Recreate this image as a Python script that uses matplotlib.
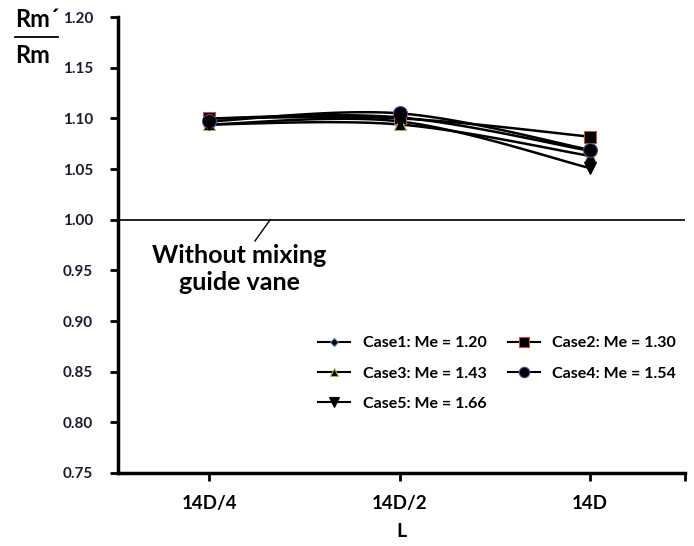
import numpy as np
import matplotlib.pyplot as plt

plt.rcParams['font.family'] = ['Lato', 'DejaVu Sans']
plt.rcParams['font.weight'] = 'bold'

positions = ["14D/4", "14D/2", "14D"]
labels = ["Case1: Me = 1.20", "Case2: Me = 1.30", "Case3: Me = 1.43",
          "Case4: Me = 1.54", "Case5: Me = 1.66"]
case1 = [1.100, 1.101, 1.068]
case2 = [1.100, 1.100, 1.082]
case3 = [1.094, 1.094, 1.063]
case4 = [1.097, 1.105, 1.069]
case5 = [1.094, 1.097, 1.051]
series = [case1, case2, case3, case4, case5]

markers = ["D", "s", "^", "o", "v"]
sizes = [6, 9, 8.5, 10, 9]
edges = ["#4f81bd", "#c0504d", "#9bbb59", "#4b4b9b", "black"]


def smooth(xs, ys, n=40, t=1/6):
    # Bezier curve through the points, like a spreadsheet "smoothed line"
    xs = np.asarray(xs, float)
    ys = np.asarray(ys, float)
    px = np.concatenate([[xs[0]], xs, [xs[-1]]])
    py = np.concatenate([[ys[0]], ys, [ys[-1]]])
    out_x, out_y = [], []
    s = np.linspace(0, 1, n)
    for i in range(1, len(px) - 2):
        p0 = np.array([px[i], py[i]])
        p3 = np.array([px[i + 1], py[i + 1]])
        p1 = p0 + t * (np.array([px[i + 1], py[i + 1]]) - np.array([px[i - 1], py[i - 1]]))
        p2 = p3 - t * (np.array([px[i + 2], py[i + 2]]) - np.array([px[i], py[i]]))
        b = ((1 - s) ** 3)[:, None] * p0 + (3 * (1 - s) ** 2 * s)[:, None] * p1 \
            + (3 * (1 - s) * s ** 2)[:, None] * p2 + (s ** 3)[:, None] * p3
        out_x.extend(b[:, 0])
        out_y.extend(b[:, 1])
    return out_x, out_y


fig = plt.figure(figsize=(6.94, 5.46), dpi=100)
ax = fig.add_axes([0.170, 0.1337, 0.817, 0.835])

x = np.arange(len(positions))
handles = []
for ys, m, ms, ec, lab in zip(series, markers, sizes, edges, labels):
    sx, sy = smooth(x, ys)
    ax.plot(sx, sy, color="black", lw=1.8, zorder=2)
    ax.plot(x, ys, linestyle="none", marker=m, ms=ms, mfc="black", mec=ec,
            mew=0.8, zorder=3)
    h, = ax.plot([], [], color="black", lw=1.5, marker=m, ms=ms * 0.75,
                 mfc="black", mec=ec, mew=0.8, label=lab)
    handles.append(h)

ax.axhline(1.0, color="black", lw=1.2, zorder=1)

ax.set_xlim(-0.48, 2.5)
ax.set_ylim(0.75, 1.20)
yt = np.arange(0.75, 1.201, 0.05)
ax.set_yticks(yt)
ax.set_yticklabels([f"{v:.2f}" for v in yt],
                   fontsize=11, fontweight="bold", color="#1a1a33")
ax.set_xticks(list(x) + [2.5])
ax.set_xticklabels(positions + [""], fontsize=13.5, fontweight="bold")
ax.tick_params(axis="y", direction="out", length=6, width=2, pad=12)
ax.tick_params(axis="x", direction="out", length=6, width=2, pad=10)

for side in ["top", "right"]:
    ax.spines[side].set_visible(False)
for side in ["left", "bottom"]:
    ax.spines[side].set_linewidth(2.5)

ax.set_xlabel("L", fontsize=14, fontweight="bold", labelpad=8)

# ratio label at top left
fig.text(0.022, 0.965, "Rm\u00b4", fontsize=17, fontweight="bold", ha="left", va="center")
fig.add_artist(plt.Line2D([0.022, 0.083], [0.932, 0.932], color="black", lw=1.3))
fig.text(0.022, 0.898, "Rm", fontsize=17, fontweight="bold", ha="left", va="center")

ax.plot([0.24, 0.32], [0.979, 1.0], color="black", lw=1)
ax.text(0.156, 0.951, "Without mixing\nguide vane", fontsize=18,
        fontweight="bold", ha="center", va="center", linespacing=1.2)

order = [0, 2, 4, 1, 3]
ax.legend([handles[i] for i in order], [labels[i] for i in order],
          loc="lower right", bbox_to_anchor=(1.01, 0.105), ncol=2, frameon=False,
          handlelength=2.0, handletextpad=0.8, columnspacing=1.3, labelspacing=1.0,
          prop={"weight": "bold", "size": 11.5})

fig.savefig("out.png", dpi=100)
